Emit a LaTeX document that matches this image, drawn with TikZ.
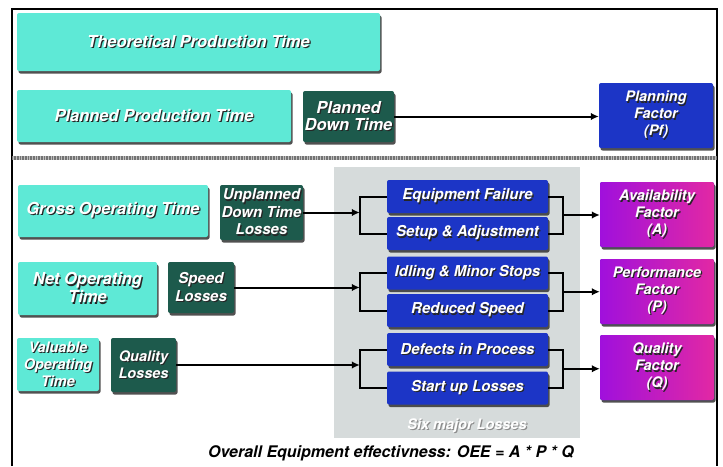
\documentclass[tikz,border=0pt]{standalone}
\usepackage{fontspec}
\setmainfont{TeX Gyre Heros}
\usepackage{xcolor}
\usepackage{tikz}
\usetikzlibrary{arrows.meta,positioning,shadows,calc}

\definecolor{aqua}{HTML}{5EE9D6}
\definecolor{pine}{HTML}{1D5A4C}
\definecolor{royal}{HTML}{1C35C6}
\definecolor{panel}{HTML}{D6DBDB}
\definecolor{plum}{HTML}{A010DC}
\definecolor{rose}{HTML}{E228A4}

% white lettering with a dark copy set slightly below right
\newcommand{\shtxt}[2][black!85]{\leavevmode\rlap{\kern1.2pt\raisebox{-1.2pt}{\color{#1}#2}}#2}
\newcommand{\bigfont}{\bfseries\itshape\fontsize{16.5}{17}\selectfont}
\newcommand{\midfont}{\bfseries\itshape\fontsize{15}{17.5}\selectfont}
\newcommand{\smallfont}{\bfseries\itshape\fontsize{14.5}{17}\selectfont}

\begin{document}
\begin{tikzpicture}[x=1pt, y=1pt,
  box/.style={rounded corners=2pt, inner sep=0pt, align=center, text=white,
              drop shadow={shadow xshift=1.5pt, shadow yshift=-2.5pt,
                           fill=black!80, opacity=.85}},
  time/.style={box, fill=aqua, font=\bigfont},
  loss/.style={box, fill=pine, font=\midfont},
  six/.style={box, fill=royal, minimum width=161, minimum height=33, font=\midfont},
  factor/.style={box, fill=royal, minimum width=114, minimum height=65, font=\smallfont},
  ratio/.style={factor, left color=plum, right color=rose},
  line/.style={line width=2pt},
  arr/.style={line, -{Latex[length=8pt, width=7.5pt]}},
]
\useasboundingbox (0,0) rectangle (723,-466);
% Frame and separator
\draw[line width=1.8pt] (12,-466) -- (12,-9) -- (717,-9) -- (717,-466);
\draw[black!25, line width=4pt] (12,-157.5) -- (717,-157.5);
\draw[black!55, line width=4pt, dash pattern=on 0.8pt off 0.8pt] (12,-157.5) -- (717,-157.5);
% Background of the six losses
\node[fill=panel, minimum width=246, minimum height=271, inner sep=0pt]
      (panel) at (457,-302.5) {};
\node[text=white, font=\smallfont] (sixlbl) at (467,-426) {\shtxt[black!45]{Six major Losses}};
% Time bars
\node[time, minimum width=363, minimum height=58] (theo)  at (198.5,-42)  {\shtxt{Theoretical Production Time}};
\node[time, minimum width=274, minimum height=52] (plan)  at (154,-116)   {\shtxt{Planned Production Time}};
\node[time, minimum width=190, minimum height=52] (gross) at (113,-211)   {\shtxt{Gross Operating Time}};
\node[time, minimum width=139, minimum height=53] (net)   at (87.5,-288.5) {\shtxt{Net Operating}\\\shtxt{Time}};
\node[time, minimum width=82,  minimum height=53, font=\smallfont]
                                                  (valu)  at (58,-364.5)  {\shtxt{Valuable}\\\shtxt{Operating}\\\shtxt{Time}};
% Losses
\node[loss, minimum width=91, minimum height=51, font=\bigfont]
                                                  (pdt)   at (348.5,-116.5) {\shtxt{Planned}\\\shtxt{Down Time}};
\node[loss, minimum width=83, minimum height=55]  (unpl)  at (261.5,-212.5) {\shtxt{Unplanned}\\\shtxt{Down Time}\\\shtxt{Losses}};
\node[loss, minimum width=66, minimum height=51]  (speed) at (201,-287.5)   {\shtxt{Speed}\\\shtxt{Losses}};
\node[loss, minimum width=65, minimum height=54, font=\smallfont]
                                                  (qual)  at (143.5,-365)   {\shtxt{Quality}\\\shtxt{Losses}};
% Six major losses
\node[six] (eqf)    at (467.5,-196.5) {\shtxt{Equipment Failure}};
\node[six] (setup)  at (467.5,-233.5) {\shtxt{Setup \& Adjustment}};
\node[six] (idle)   at (467.5,-273)   {\shtxt{Idling \& Minor Stops}};
\node[six] (redsp)  at (467.5,-310.5) {\shtxt{Reduced Speed}};
\node[six] (defect) at (467.5,-349.5) {\shtxt{Defects in Process}};
\node[six] (start)  at (467.5,-388)   {\shtxt{Start up Losses}};
% Factors
\node[factor] (plf)   at (656,-115.5) {\shtxt{Planning}\\\shtxt{Factor}\\\shtxt{(Pf)}};
\node[ratio]  (avail) at (657,-214.5) {\shtxt{Availability}\\\shtxt{Factor}\\\shtxt{(A)}};
\node[ratio]  (perf)  at (657,-291.5) {\shtxt{Performance}\\\shtxt{Factor}\\\shtxt{(P)}};
\node[ratio]  (qf)    at (657,-367.5) {\shtxt{Quality}\\\shtxt{Factor}\\\shtxt{(Q)}};
\node[font=\bfseries\itshape\fontsize{16}{18}\selectfont] (oee) at (391,-453)
      {Overall Equipment effectivness: OEE = A * P * Q};
% Brackets
\draw[line] (eqf.west) -- ++(-27,0) |- (setup.west);
\draw[line] (eqf.east) -- ++(15,0) |- (setup.east);
\draw[line] (idle.west) -- ++(-27,0) |- (redsp.west);
\draw[line] (idle.east) -- ++(15,0) |- (redsp.east);
\draw[line] (defect.west) -- ++(-27,0) |- (start.west);
\draw[line] (defect.east) -- ++(15,0) |- (start.east);
\coordinate (inA)  at ($(eqf.west)!.5!(setup.west)+(-27,0)$);
\coordinate (outA) at ($(eqf.east)!.5!(setup.east)+(15,0)$);
\coordinate (inP)  at ($(idle.west)!.5!(redsp.west)+(-27,0)$);
\coordinate (outP) at ($(idle.east)!.5!(redsp.east)+(15,0)$);
\coordinate (inQ)  at ($(defect.west)!.5!(start.west)+(-27,0)$);
\coordinate (outQ) at ($(defect.east)!.5!(start.east)+(15,0)$);
% Arrows
\draw[arr] (pdt.east)   -- (pdt.east -| plf.west);
\draw[arr] (unpl.east)  -- (unpl.east -| inA);
\draw[arr] (speed.east) -- (speed.east -| inP);
\draw[arr] (qual.east)  -- (qual.east -| inQ);
\draw[arr] (outA) -- (outA -| avail.west);
\draw[arr] (outP) -- (outP -| perf.west);
\draw[arr] (outQ) -- (outQ -| qf.west);
\end{tikzpicture}
\end{document}
